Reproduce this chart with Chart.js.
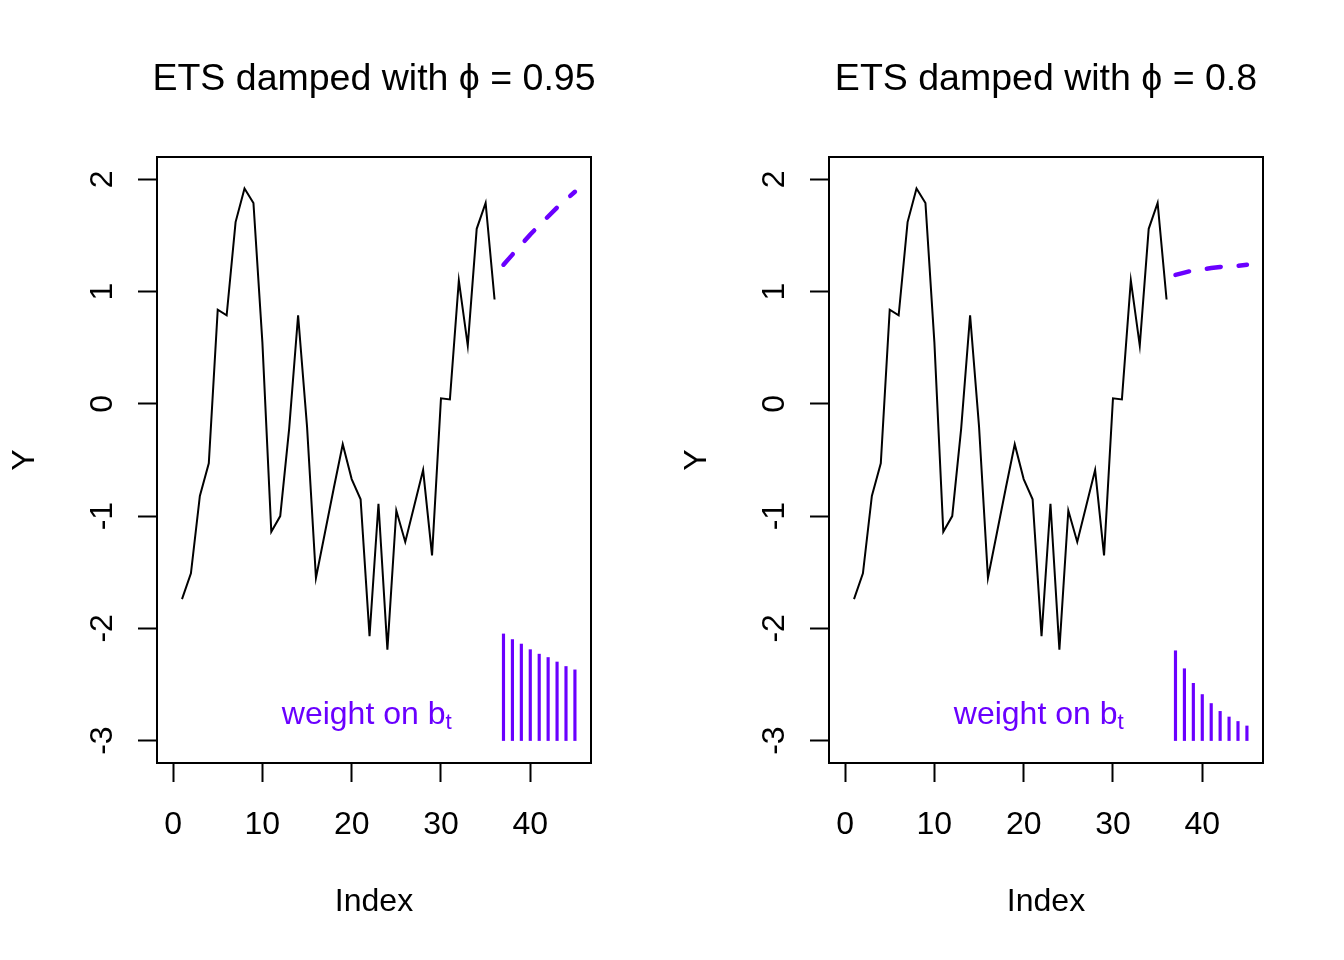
<!DOCTYPE html>
<html>
<head>
<meta charset="utf-8">
<title>ETS damped</title>
<script src="https://cdn.jsdelivr.net/npm/chart.js@4/dist/chart.umd.min.js"></script>
<style>
  html, body { margin: 0; padding: 0; background: #fff; }
  .panels { display: flex; width: 1344px; height: 960px; }
  canvas { display: block; }
</style>
</head>
<body>
<div class="panels">
  <canvas id="left" width="672" height="960"></canvas>
  <canvas id="right" width="672" height="960"></canvas>
</div>
<script>
// observed series, t = 1..36
const obsX = [1, 2, 3, 4, 5, 6, 7, 8, 9, 10, 11, 12, 13, 14, 15, 16, 17, 18,
              19, 20, 21, 22, 23, 24, 25, 26, 27, 28, 29, 30, 31, 32, 33, 34, 35, 36];
const obsY = [-1.74, -1.51, -0.82, -0.53, 0.84, 0.79, 1.62, 1.92, 1.79, 0.55, -1.14, -1.00,
              -0.22, 0.79, -0.20, -1.55, -1.15, -0.75, -0.36, -0.67, -0.85, -2.07, -0.89, -2.19,
              -0.95, -1.23, -0.91, -0.59, -1.35, 0.05, 0.04, 1.10, 0.52, 1.56, 1.79, 0.93];

// forecast horizon
const fcX = [37, 38, 39, 40, 41, 42, 43, 44, 45];
const fc95 = [1.24, 1.33, 1.42, 1.51, 1.59, 1.67, 1.75, 1.82, 1.89];
const fc80 = [1.15, 1.17, 1.19, 1.20, 1.21, 1.22, 1.23, 1.23, 1.24];

// weight on b_t (drawn up from the bottom tick)
const weights95 = [0.95, 0.90, 0.86, 0.81, 0.77, 0.74, 0.70, 0.66, 0.63];
const weights80 = [0.80, 0.64, 0.51, 0.41, 0.33, 0.26, 0.21, 0.17, 0.13];
const weightBase = -3;

const xTicks = [0, 10, 20, 30, 40];
const yTicks = [-3, -2, -1, 0, 1, 2];

const purple = '#6a00ff';
const family = '"Liberation Sans", Arial, Helvetica, sans-serif';

Chart.defaults.font.family = family;
Chart.defaults.color = '#000';

// R-style decorations: box, rotated y labels, titles, annotation
const rPlot = {
    id: 'rPlot',
    afterDraw(chart, args, opts) {
        const { ctx, chartArea: a, scales: { x, y } } = chart;
        const cx = (a.left + a.right) / 2;
        ctx.save();
        ctx.strokeStyle = '#000';
        ctx.lineWidth = 2;
        ctx.strokeRect(a.left, a.top, a.right - a.left, a.bottom - a.top);

        ctx.fillStyle = '#000';
        ctx.textAlign = 'center';
        ctx.textBaseline = 'alphabetic';
        ctx.font = '32px ' + family;
        yTicks.forEach(v => {
            ctx.save();
            ctx.translate(a.left - 45, y.getPixelForValue(v));
            ctx.rotate(-Math.PI / 2);
            ctx.fillText(String(v), 0, 0);
            ctx.restore();
        });

        ctx.save();
        ctx.translate(34, (a.top + a.bottom) / 2);
        ctx.rotate(-Math.PI / 2);
        ctx.fillText('Y', 0, 0);
        ctx.restore();

        ctx.fillText('Index', cx, 911);

        ctx.font = '37.5px ' + family;
        ctx.fillText(opts.title, cx, 90);

        // "weight on b" with subscript t
        const xr = x.getPixelForValue(31.2);
        const yb = y.getPixelForValue(-2.85);
        ctx.fillStyle = purple;
        ctx.font = '22.4px ' + family;
        const tW = ctx.measureText('t').width;
        ctx.textAlign = 'left';
        ctx.fillText('t', xr - tW, yb + 5);
        ctx.font = '32px ' + family;
        ctx.textAlign = 'right';
        ctx.fillText('weight on b', xr - tW, yb);
        ctx.restore();
    }
};

function makePanel(id, title, fc, weights) {
    const ctx = document.getElementById(id).getContext('2d');
    return new Chart(ctx, {
        type: 'line',
        data: {
            datasets: [
                {
                    data: obsX.map((t, i) => ({ x: t, y: obsY[i] })),
                    borderColor: '#000',
                    borderWidth: 2,
                    pointRadius: 0,
                    tension: 0
                },
                {
                    data: fcX.map((t, i) => ({ x: t, y: fc[i] })),
                    borderColor: purple,
                    borderWidth: 4.5,
                    borderDash: [14, 18],
                    borderCapStyle: 'round',
                    pointRadius: 0,
                    tension: 0
                },
                {
                    type: 'bar',
                    data: fcX.map((t, i) => ({ x: t, y: [weightBase, weightBase + weights[i]] })),
                    backgroundColor: purple,
                    borderWidth: 0,
                    barThickness: 2.5,
                    grouped: false
                }
            ]
        },
        options: {
            responsive: false,
            animation: false,
            events: [],
            layout: { padding: { left: 0, top: 157, right: 81, bottom: 0 } },
            plugins: {
                legend: { display: false },
                tooltip: { enabled: false },
                rPlot: { title: title }
            },
            scales: {
                x: {
                    type: 'linear',
                    min: -1.8,
                    max: 46.8,
                    offset: false,
                    afterBuildTicks: s => { s.ticks = xTicks.map(v => ({ value: v })); },
                    afterFit: s => { s.height = 197; },
                    grid: {
                        offset: false,
                        drawOnChartArea: false,
                        drawTicks: true,
                        tickLength: 19,
                        tickWidth: 2,
                        tickColor: '#000'
                    },
                    border: { display: false },
                    ticks: {
                        font: { size: 32 },
                        color: '#000',
                        padding: 24,
                        maxRotation: 0
                    }
                },
                y: {
                    type: 'linear',
                    min: -3.2,
                    max: 2.2,
                    afterBuildTicks: s => { s.ticks = yTicks.map(v => ({ value: v })); },
                    afterFit: s => { s.width = 157; },
                    grid: {
                        drawOnChartArea: false,
                        drawTicks: true,
                        tickLength: 19,
                        tickWidth: 2,
                        tickColor: '#000'
                    },
                    border: { display: false },
                    ticks: { display: false }
                }
            }
        },
        plugins: [rPlot]
    });
}

makePanel('left', 'ETS damped with \u03d5 = 0.95', fc95, weights95);
makePanel('right', 'ETS damped with \u03d5 = 0.8', fc80, weights80);
</script>
</body>
</html>
